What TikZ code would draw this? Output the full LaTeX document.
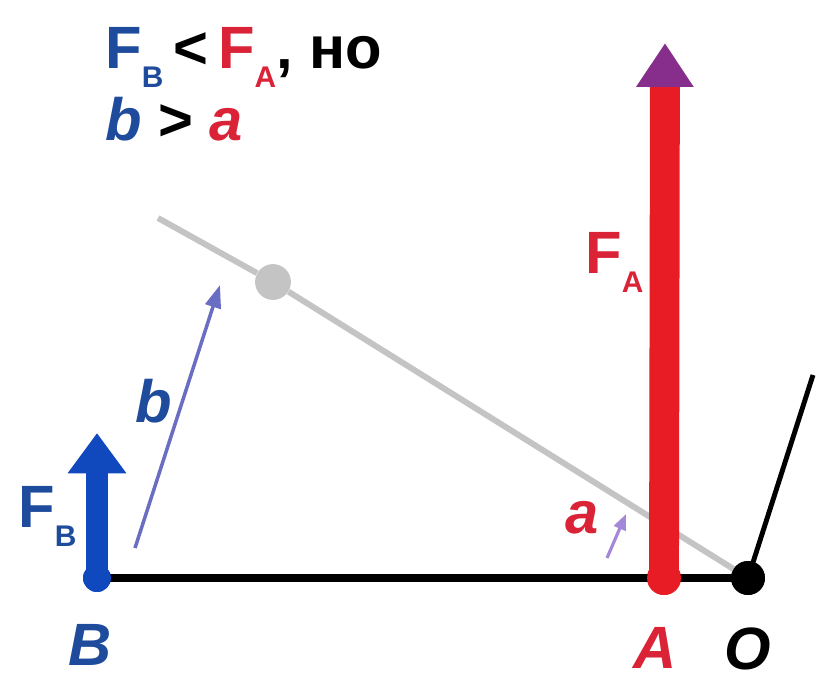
\documentclass[tikz,border=0pt]{standalone}
\usepackage{fontspec}
\setmainfont{Liberation Sans}
\usetikzlibrary{arrows.meta,positioning}

\definecolor{forceblue}{RGB}{16,72,190}
\definecolor{textblue}{RGB}{30,75,155}
\definecolor{forcered}{RGB}{232,28,36}
\definecolor{textred}{RGB}{218,35,55}
\definecolor{headpurple}{RGB}{135,45,140}
\definecolor{levergray}{RGB}{196,196,196}
\definecolor{armblue}{RGB}{105,110,195}
\definecolor{armviolet}{RGB}{165,135,215}

\newcommand\lowsub[1]{\raisebox{-0.33em}{\fontsize{17}{19}\selectfont #1}}

\begin{document}
\begin{tikzpicture}[x=0.02cm, y=-0.02cm,
    lbl/.style={inner sep=0pt, font=\fontsize{34}{38}\selectfont\bfseries},
    ilbl/.style={lbl, font=\fontsize{34}{38}\selectfont\bfseries\itshape},
    dot/.style={circle, inner sep=0pt, minimum size=#1},
    beam/.style={line width=4pt, black},
    forcearrow/.style={line width=#1, -{Triangle[width=32pt, length=23pt]}},
    armarrow/.style={line width=2pt, armblue, -{Triangle[width=9pt, length=13pt]}}]
    \useasboundingbox (0,0) rectangle (819,681);

    % Nodes
    \coordinate (leverend) at (158,218);
    \node[dot=20.4pt, fill=levergray] (pivot) at (273,282) {};
    \node[dot=15.9pt, fill=forceblue] (B) at (97,578) {};
    \node[dot=19.3pt, fill=forcered] (A) at (664,578) {};
    \node[dot=19.3pt, fill=black] (O) at (748,578) {};
    \coordinate (wall) at (813,375);
    \coordinate (FBtip) at (97,433);
    \coordinate (FAtip) at (665,43);
    \coordinate (btail) at (135,548);
    \coordinate (bhead) at (220,285);
    \coordinate (atail) at (607,558);
    \coordinate (ahead) at (626,514);

    \node[ilbl, textblue, below=18pt of B, xshift=-4pt] (Blbl) {B};
    \node[ilbl, textred, below=18pt of A, xshift=-5pt] (Albl) {A};
    \node[ilbl, black, below=18pt of O] (Olbl) {O};
    \node[lbl, textblue, anchor=base west] (FBlbl) at (18,527) {F\lowsub{B}};
    \node[lbl, textred, anchor=base west] (FAlbl) at (585,273) {F\lowsub{A}};
    \node[ilbl, textblue, anchor=base west] (blbl) at (135,422) {b};
    \node[ilbl, textred, anchor=base west] (albl) at (565,533) {a};
    \node[lbl, anchor=base west] (cond1) at (105,68)
      {\textcolor{textblue}{F\lowsub{B}}\,<\,\textcolor{textred}{F\lowsub{A}},~но};
    \node[lbl, anchor=base west] (cond2) at (105,140)
      {\textit{\textcolor{textblue}{b}} > \textit{\textcolor{textred}{a}}};

    % Paths
    \draw[line width=3.4pt, levergray] (leverend) -- (pivot) -- (O.center);
    \draw[beam] (B.center) -- (O.center);
    \draw[line width=2.8pt, black] (O.center) -- (wall);
    \draw[forcearrow=13pt, forceblue] (B.center) -- (FBtip);
    \draw[line width=17pt, forcered, -{Triangle[width=31pt, length=25pt, color=headpurple]}] (A.center) -- (FAtip);
    \draw[armarrow] (btail) -- (bhead);
    \draw[line width=1.8pt, armviolet, -{Triangle[width=7pt, length=9pt]}] (atail) -- (ahead);

    % Dots on top
    \node[dot=15.9pt, fill=forceblue] at (B) {};
    \node[dot=19.3pt, fill=forcered] at (A) {};
    \node[dot=19.3pt, fill=black] at (O) {};
  \end{tikzpicture}
\end{document}
